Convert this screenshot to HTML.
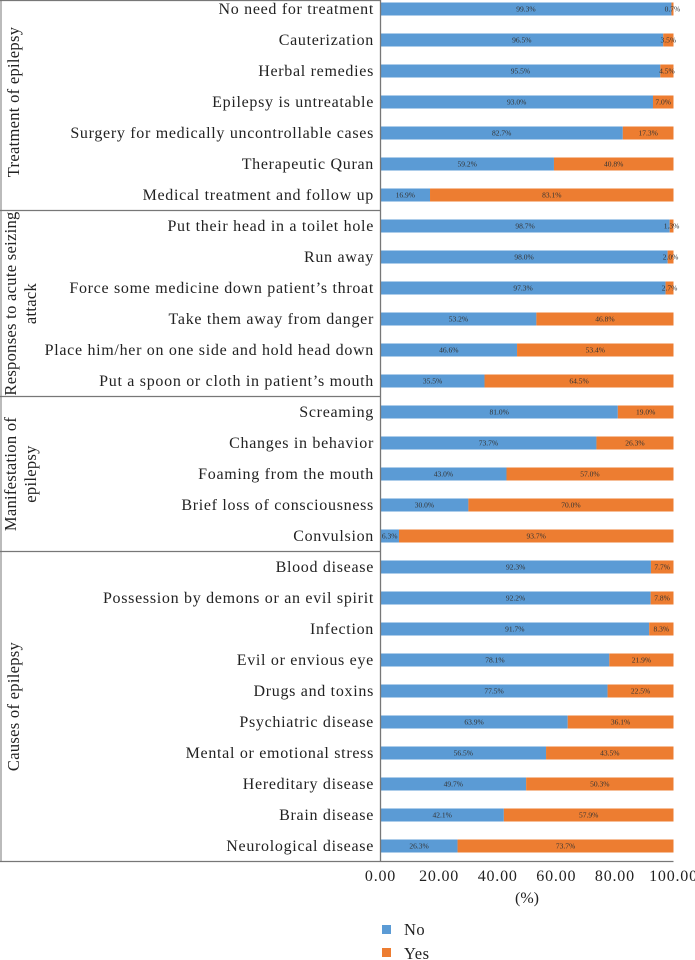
<!DOCTYPE html>
<html><head><meta charset="utf-8">
<style>
body{margin:0;background:#fff;}
svg{display:block;font-family:"Liberation Serif",serif;}
</style></head>
<body>
<svg id="chart" width="695" height="960" xmlns="http://www.w3.org/2000/svg"></svg>
<script>
const categories=["No need for treatment","Cauterization","Herbal remedies","Epilepsy is untreatable","Surgery for medically uncontrollable cases","Therapeutic Quran","Medical treatment and follow up","Put their head in a toilet hole","Run away","Force some medicine down patient\u2019s throat","Take them away from danger","Place him/her on one side and hold head down","Put a spoon or cloth in patient\u2019s mouth","Screaming","Changes in behavior","Foaming from the mouth","Brief loss of consciousness","Convulsion","Blood disease","Possession by demons or an evil spirit","Infection","Evil or envious eye","Drugs and toxins","Psychiatric disease","Mental or emotional stress","Hereditary disease","Brain disease","Neurological disease"];
const noValues=[99.3,96.5,95.5,93.0,82.7,59.2,16.9,98.7,98.0,97.3,53.2,46.6,35.5,81.0,73.7,43.0,30.0,6.3,92.3,92.2,91.7,78.1,77.5,63.9,56.5,49.7,42.1,26.3];
const yesValues=[0.7,3.5,4.5,7.0,17.3,40.8,83.1,1.3,2.0,2.7,46.8,53.4,64.5,19.0,26.3,57.0,70.0,93.7,7.7,7.8,8.3,21.9,22.5,36.1,43.5,50.3,57.9,73.7];
const groupNames=[["Treatment of epilepsy"],["Responses to acute seizing","attack"],["Manifestation of","epilepsy"],["Causes of epilepsy"]];
const groupSizes=[7,6,5,10];
const tickValues=[0,20,40,60,80,100];

const svg=document.getElementById('chart');
const NS='http://www.w3.org/2000/svg';
const X0=380.5,X1=673.5,Y0=9,PITCH=31,BH=13;
const xs=v=>X0+(X1-X0)*v/100;
const ys=i=>Y0+PITCH*i;
function mk(tag,attrs,text){const e=document.createElementNS(NS,tag);for(const k in attrs)e.setAttribute(k,attrs[k]);if(text!==undefined)e.textContent=text;svg.appendChild(e);return e;}

categories.forEach((c,i)=>{
  const y=ys(i);
  const lab=mk('text',{x:374,y:y+5,'text-anchor':'end','font-size':16,'letter-spacing':0.7,fill:'#222'},c);
  
  
  const b1=mk('rect',{x:xs(0),y:y-BH/2,width:xs(noValues[i])-xs(0),height:BH,fill:'#5b9bd5'});
  
  
  const b2=mk('rect',{x:xs(noValues[i]),y:y-BH/2,width:xs(noValues[i]+yesValues[i])-xs(noValues[i]),height:BH,fill:'#ed7d31'});
  
  
  const t1=mk('text',{x:(xs(0)+xs(noValues[i]))/2,y:y+2.5,'text-anchor':'middle','font-size':7.5,fill:'#333'},noValues[i].toFixed(1)+'%');
  
  
  let cx=(xs(noValues[i])+xs(noValues[i]+yesValues[i]))/2; if(yesValues[i]<5)cx=Math.min(cx,xs(100)-1);
  const t2=mk('text',{x:cx,y:y+2.5,'text-anchor':'middle','font-size':7.5,fill:'#333'},yesValues[i].toFixed(1)+'%');
  
  
});

let start=0;
const sep0=mk('line',{x1:0,y1:0.5,x2:X0,y2:0.5,stroke:'#777','stroke-width':1.3});


groupSizes.forEach((n,g)=>{
  const top=ys(start)-PITCH/2, bot=ys(start+n-1)+PITCH/2;
  const ln=mk('line',{x1:0,y1:bot,x2:g===groupSizes.length-1?X1:X0,y2:bot,stroke:'#777','stroke-width':1.3});
  
  
  const cy=(top+bot)/2;
  const lines=groupNames[g];
  lines.forEach((s,k)=>{
    const x=lines.length===1?19:(k===0?16:36);
    const t=mk('text',{x:x,y:cy,'text-anchor':'middle','font-size':16.5,'letter-spacing':0.3,fill:'#222',transform:`rotate(-90 ${x} ${cy})`},s);
    
    
  });
  start+=n;
});
const lv=mk('line',{x1:1,y1:0,x2:1,y2:ys(27)+PITCH/2,stroke:'#777','stroke-width':1});


const ax=mk('line',{x1:X0,y1:0,x2:X0,y2:ys(27)+PITCH/2,stroke:'#777','stroke-width':1.3});



tickValues.forEach(v=>{
  const t=mk('text',{x:xs(v),y:881,'text-anchor':'middle','font-size':16,'letter-spacing':0.8,fill:'#222'},v.toFixed(2));
  
  
});
const xt=mk('text',{x:527,y:903,'text-anchor':'middle','font-size':16,fill:'#222'},'(%)');



const l1=mk('rect',{x:382,y:925,width:9,height:9,fill:'#5b9bd5'});


const l1t=mk('text',{x:404,y:935,'font-size':16.5,'letter-spacing':0.5,fill:'#222'},'No');


const l2=mk('rect',{x:382,y:948,width:9,height:9,fill:'#ed7d31'});


const l2t=mk('text',{x:404,y:959,'font-size':16.5,'letter-spacing':0.5,fill:'#222'},'Yes');


</script>
</body></html>
